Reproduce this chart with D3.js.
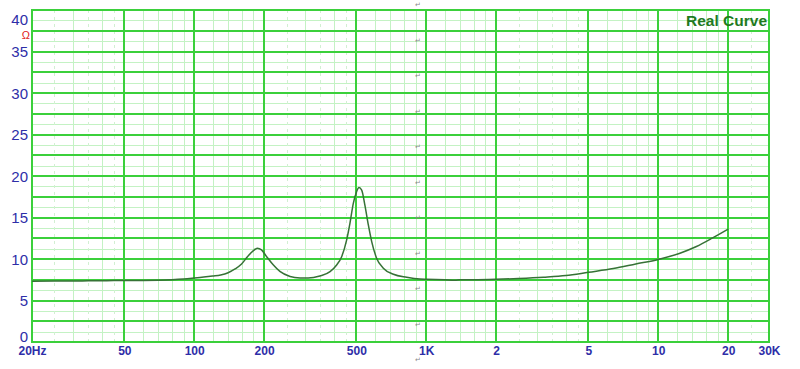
<!DOCTYPE html>
<html>
<head>
<meta charset="utf-8">
<script src="https://cdn.jsdelivr.net/npm/d3@7"></script>
<style>
  html, body { margin: 0; padding: 0; background: #ffffff; }
  svg { display: block; }
</style>
</head>
<body>
<svg id="chart" width="800" height="369"></svg>
<script>
// ---- data ----
const freqs = [20, 25, 30, 35, 40, 45, 50, 60, 70, 80, 90, 100, 110, 120, 130, 140, 150, 160, 170, 180, 187, 195, 205, 219, 234, 259, 286, 310, 348, 385, 411, 432, 454, 469, 485, 501, 513, 527, 544, 563, 582, 611, 653, 722, 824, 940, 1000, 1200, 1330, 1400, 1600, 2000, 2500, 3200, 4000, 5000, 6400, 8000, 10000, 12400, 14600, 17300, 20000];
const impedance = [7.33, 7.35, 7.35, 7.37, 7.38, 7.40, 7.40, 7.42, 7.45, 7.50, 7.58, 7.70, 7.82, 7.95, 8.08, 8.35, 8.8, 9.4, 10.3, 11.0, 11.3, 11.1, 10.3, 9.3, 8.5, 7.9, 7.72, 7.7, 7.95, 8.47, 9.28, 10.28, 12.3, 14.3, 16.7, 18.1, 18.6, 18.3, 16.5, 14.1, 12.1, 10.1, 8.9, 8.16, 7.8, 7.58, 7.55, 7.5, 7.45, 7.5, 7.5, 7.55, 7.65, 7.8, 8.0, 8.4, 8.85, 9.4, 9.95, 10.7, 11.5, 12.6, 13.6];

const yTickValues = [0, 5, 10, 15, 20, 25, 30, 35, 40];
const xTickValues = [20, 50, 100, 200, 500, 1000, 2000, 5000, 10000, 20000, 30000];
const xTickLabels = ["20Hz", "50", "100", "200", "500", "1K", "2", "5", "10", "20", "30K"];

const majorFreqLines = [50, 100, 200, 500, 1000, 2000, 5000, 10000, 20000];
const minorFreqLines = [30, 40, 60, 70, 80, 90, 120, 140, 160, 180, 300, 400, 600, 700, 800, 900,
  1200, 1400, 1600, 1800, 3000, 4000, 6000, 7000, 8000, 9000, 12000, 14000, 16000, 18000];
const dashedFreqLines = [25, 35, 45, 250, 350, 450, 2500, 3500, 4500, 25000];
const majorOhmLines = [2.5, 5, 7.5, 10, 12.5, 15, 17.5, 20, 22.5, 25, 27.5, 30, 32.5, 35, 37.5];
const minorOhmLines = [1.25, 3.75, 6.25, 8.75, 11.25, 13.75, 16.25, 18.75, 21.25, 23.75, 26.25, 28.75, 31.25, 33.75, 36.25, 38.75];

const legendText = "Real Curve";
const unitText = "\u03A9";
const returnMarkCount = 11;

// ---- drawing ----
const svg = d3.select("#chart");
const L = 32, R = 769, T = 10, B = 342;
const x = d3.scaleLog().domain([20, 30000]).range([L, R]);
const y = d3.scaleLinear().domain([0, 40]).range([B, T]);

const bright = "#3bd03b";
const light = "#c4f2c4";
const grid = svg.append("g").attr("shape-rendering", "crispEdges");

grid.selectAll("line.hmin").data(minorOhmLines).join("line")
  .attr("x1", L).attr("x2", R).attr("y1", d => Math.round(y(d)) + 0.5).attr("y2", d => Math.round(y(d)) + 0.5)
  .attr("stroke", light).attr("stroke-width", 1);
grid.selectAll("line.vmin").data(minorFreqLines).join("line")
  .attr("y1", T).attr("y2", B).attr("x1", d => Math.round(x(d)) + 0.5).attr("x2", d => Math.round(x(d)) + 0.5)
  .attr("stroke", light).attr("stroke-width", 1);
grid.selectAll("line.vdash").data(dashedFreqLines).join("line")
  .attr("y1", T).attr("y2", B).attr("x1", d => Math.round(x(d)) + 0.5).attr("x2", d => Math.round(x(d)) + 0.5)
  .attr("stroke", "#d2f0d2").attr("stroke-width", 1).attr("stroke-dasharray", "3,4");
grid.selectAll("line.hmaj").data(majorOhmLines).join("line")
  .attr("x1", L).attr("x2", R).attr("y1", d => Math.round(y(d))).attr("y2", d => Math.round(y(d)))
  .attr("stroke", bright).attr("stroke-width", 2);
grid.selectAll("line.vmaj").data(majorFreqLines).join("line")
  .attr("y1", T).attr("y2", B).attr("x1", d => Math.round(x(d))).attr("x2", d => Math.round(x(d)))
  .attr("stroke", bright).attr("stroke-width", 2);
grid.append("rect").attr("x", L).attr("y", T).attr("width", R - L).attr("height", B - T)
  .attr("fill", "none").attr("stroke", bright).attr("stroke-width", 2);

// curve
const line = d3.line().x((d, i) => x(freqs[i])).y(d => y(d)).curve(d3.curveMonotoneX);
svg.append("path").datum(impedance).attr("d", line)
  .attr("fill", "none").attr("stroke", "#367236").attr("stroke-width", 1.5);

// axes
const labelColor = "#2e2ea8";
const yAxis = svg.append("g").attr("transform", `translate(${L},0)`)
  .call(d3.axisLeft(y).tickValues(yTickValues).tickSize(0).tickPadding(4).tickFormat(d3.format("d")));
yAxis.select(".domain").remove();
yAxis.selectAll("text").attr("fill", labelColor).attr("font-family", "Arial, 'Liberation Sans', sans-serif")
  .attr("font-size", 15)
  .attr("dy", d => d === 40 ? "0.95em" : (d === 0 ? "-0.05em" : "0.35em"));

const xAxis = svg.append("g").attr("transform", `translate(0,${B})`)
  .call(d3.axisBottom(x).tickValues(xTickValues).tickSize(0).tickPadding(4.5)
    .tickFormat((d, i) => xTickLabels[i]));
xAxis.select(".domain").remove();
xAxis.selectAll("text").attr("fill", labelColor).attr("font-family", "Arial, 'Liberation Sans', sans-serif")
  .attr("font-size", 12).attr("font-weight", "bold");

// unit
svg.append("text").attr("x", 30).attr("y", 39).attr("text-anchor", "end")
  .attr("fill", "#e02020").attr("font-family", "Arial, 'Liberation Sans', sans-serif").attr("font-size", 11)
  .text(unitText);

// legend
svg.append("text").attr("x", 767).attr("y", 26).attr("text-anchor", "end")
  .attr("fill", "#1f7a1f").attr("font-family", "Arial, 'Liberation Sans', sans-serif")
  .attr("font-size", 15.5).attr("font-weight", "bold").text(legendText);

// paragraph return marks (document artefacts)
svg.append("g").selectAll("text").data(d3.range(returnMarkCount)).join("text")
  .attr("x", 418).attr("y", i => Math.min(7 + i * 35.5, 366)).attr("text-anchor", "middle")
  .attr("fill", "#8a8a8a").attr("font-family", "'DejaVu Sans', sans-serif").attr("font-size", 7)
  .text("\u21B5");
</script>
</body>
</html>
